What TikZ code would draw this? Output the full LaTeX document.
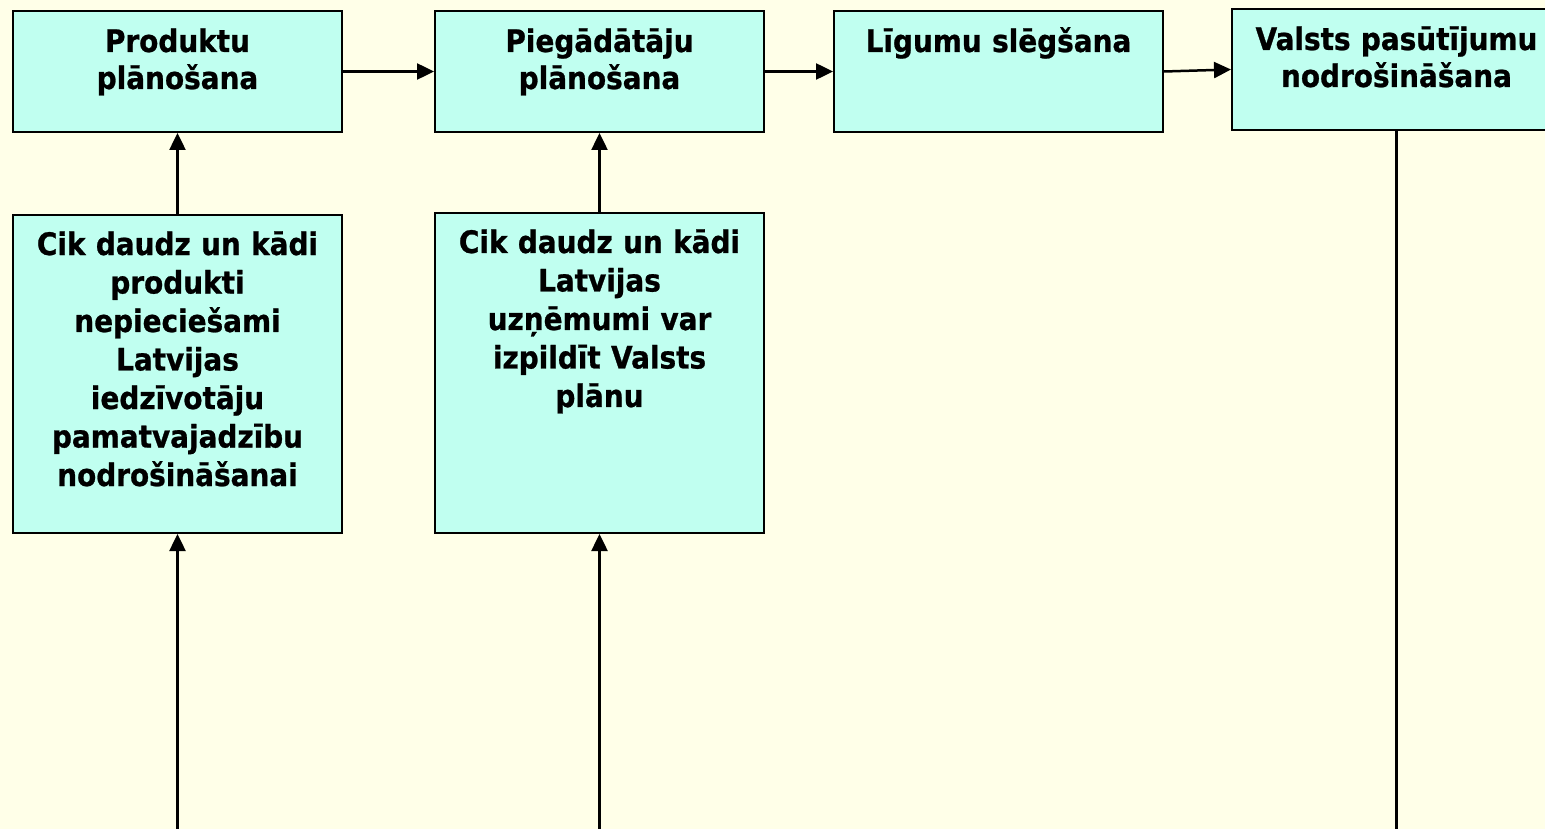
\documentclass[tikz,border=0pt]{standalone}
\usepackage{fontspec}
\setmainfont{DejaVu Sans}[FakeStretch=0.9, BoldFeatures={FakeBold=0.8}]
\usetikzlibrary{arrows.meta}
\definecolor{bgcol}{RGB}{255,255,232}
\definecolor{boxcol}{RGB}{192,255,240}
\tikzset{
  box/.style={draw=black, line width=2pt, fill=boxcol, minimum width=329pt, inner sep=0pt, anchor=north west},
  txt/.style={text width=320pt, align=center, inner sep=0pt, anchor=base, font=\bfseries\fontsize{31}{37}\selectfont},
  txtb/.style={txt, font=\bfseries\fontsize{31}{38.5}\selectfont},
  arr/.style={line width=2.5pt, -{Triangle[length=17pt,width=16pt]}},
  ln/.style={line width=2.5pt}
}
\begin{document}
\begin{tikzpicture}[x=1pt,y=-1pt]
\useasboundingbox (0,0) rectangle (1545,829);
\fill[bgcol] (0,0) rectangle (1545,829);
% top row
\node[box, minimum height=121pt] (A) at (12,10) {};
\node[box, minimum height=121pt] (B) at (434,10) {};
\node[box, minimum height=121pt] (C) at (833,10) {};
\node[box, minimum height=121pt] (D) at (1231,8) {};
% lower boxes
\node[box, minimum height=318pt] (E) at (12,214) {};
\node[box, minimum height=320pt] (F) at (434,212) {};
% texts
\node[txt] (tA) at ([yshift=-42pt]A.north) {Produktu\\plānošana};
\node[txt] (tB) at ([yshift=-42pt]B.north) {Piegādātāju\\plānošana};
\node[txt] (tC) at ([yshift=-42pt]C.north) {Līgumu slēgšana};
\node[txt] (tD) at ([yshift=-42pt]D.north) {Valsts pasūtījumu\\nodrošināšana};
\node[txtb] (tE) at ([yshift=-41pt]E.north) {Cik daudz un kādi\\produkti\\nepieciešami\\Latvijas\\iedzīvotāju\\pamatvajadzību\\nodrošināšanai};
\node[txtb] (tF) at ([yshift=-41pt]F.north) {Cik daudz un kādi\\Latvijas\\uzņēmumi var\\izpildīt Valsts\\plānu};
% connectors
\draw[arr] (A.east) -- (B.west);
\draw[arr] (B.east) -- (C.west);
\draw[arr] (C.east) -- (D.west);
\draw[arr] (E.north) -- (A.south);
\draw[arr] (F.north) -- (B.south);
\coordinate (eb) at (E.south |- 0,829);
\coordinate (fb) at (F.south |- 0,829);
\coordinate (db) at (D.south |- 0,829);
\draw[arr] (eb) -- (E.south);
\draw[arr] (fb) -- (F.south);
\draw[ln] (D.south) -- (db);
\end{tikzpicture}
\end{document}
